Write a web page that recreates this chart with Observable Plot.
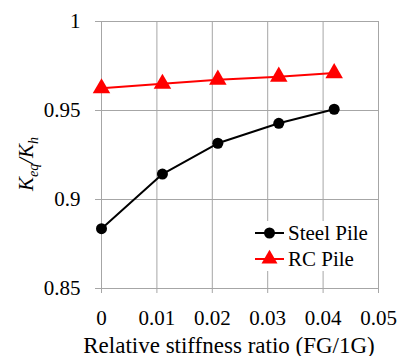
<!DOCTYPE html>
<html>
<head>
<meta charset="utf-8">
<script src="https://cdn.jsdelivr.net/npm/d3@7"></script>
<script src="https://cdn.jsdelivr.net/npm/@observablehq/plot@0.6"></script>
<style>
  html, body { margin: 0; padding: 0; background: #fff; }
  #chart svg { display: block; }
</style>
</head>
<body>
<div id="chart"></div>
<script>
// Relative stiffness ratio (FG/1G) for each test
const ratio = [0, 0.011, 0.021, 0.032, 0.042];
// Normalised stiffness Keq/Kh
const steelPile = [0.8836, 0.9143, 0.9316, 0.9428, 0.9507];
const rcPile = [0.9625, 0.9650, 0.9673, 0.9690, 0.9710];

const xTicks = [0, 0.01, 0.02, 0.03, 0.04, 0.05];
const xTickLabels = ["0", "0.01", "0.02", "0.03", "0.04", "0.05"];
const yTicks = [0.85, 0.9, 0.95, 1];
const yTickLabels = ["0.85", "0.9", "0.95", "1"];

const seriesNames = ["Steel Pile", "RC Pile"];
const seriesColors = ["#000000", "#ff0000"];

const steel = ratio.map((r, i) => ({x: r, y: steelPile[i]}));
const rc = ratio.map((r, i) => ({x: r, y: rcPile[i]}));

const font = "Times, 'Times New Roman', 'Liberation Serif', Tinos, 'Nimbus Roman', serif";
const gridColor = "#a6a6a6";

const svg = Plot.plot({
  width: 400,
  height: 356,
  marginLeft: 101,
  marginRight: 22,
  marginTop: 21,
  marginBottom: 68,
  style: {fontSize: "21px", color: "#000", background: "#fff"},
  x: {domain: [0, 0.05]},
  y: {domain: [0.85, 1]},
  marks: [
    Plot.gridX(xTicks, {stroke: gridColor, strokeOpacity: 1, strokeWidth: 1}),
    Plot.gridY(yTicks, {stroke: gridColor, strokeOpacity: 1, strokeWidth: 1}),
    Plot.axisX({
      ticks: xTicks, tickSize: 5, tickPadding: 17, stroke: gridColor,
      tickFormat: (d, i) => xTickLabels[i], label: null, fontSize: 21
    }),
    Plot.axisY({
      ticks: yTicks, tickSize: 6, tickPadding: 15, stroke: gridColor,
      tickFormat: (d, i) => yTickLabels[i], label: null, fontSize: 21
    }),
    Plot.line(rc, {x: "x", y: "y", stroke: seriesColors[1], strokeWidth: 2}),
    Plot.dot(rc, {x: "x", y: "y", symbol: "triangle", r: 6.5, fill: seriesColors[1], stroke: "none"}),
    Plot.line(steel, {x: "x", y: "y", stroke: seriesColors[0], strokeWidth: 2}),
    Plot.dot(steel, {x: "x", y: "y", r: 5.5, fill: seriesColors[0], stroke: "none"})
  ]
});

document.getElementById("chart").appendChild(svg);

const s = d3.select(svg);

// x axis title
s.append("text")
  .attr("x", 229).attr("y", 353)
  .attr("text-anchor", "middle")
  .style("font-size", "23px")
  .text("Relative stiffness ratio (FG/1G)");

// y axis title with subscripts
const yl = s.append("text")
  .attr("transform", "translate(33,164) rotate(-90)")
  .attr("text-anchor", "middle")
  .style("font-size", "21px").style("font-style", "italic");
yl.append("tspan").text("K");
yl.append("tspan").attr("dy", 5).style("font-size", "14px").text("eq");
yl.append("tspan").attr("dy", -5).text("/K");
yl.append("tspan").attr("dy", 5).style("font-size", "14px").text("h");

// legend
const lg = s.append("g").attr("transform", "translate(253,221)");
lg.append("rect").attr("width", 121).attr("height", 50).attr("fill", "#fff");
seriesNames.forEach((name, i) => {
  const y = 12 + i * 26;
  const g = lg.append("g").attr("transform", `translate(0,${y})`);
  g.append("line").attr("x1", 2).attr("x2", 31).attr("stroke", seriesColors[i]).attr("stroke-width", 2);
  g.append("path")
    .attr("transform", "translate(16.5,0)")
    .attr("d", d3.symbol(i === 0 ? d3.symbolCircle : d3.symbolTriangle, i === 0 ? Math.PI * 5.5 * 5.5 : 110)())
    .attr("fill", seriesColors[i]);
  g.append("text").attr("x", 35).attr("dy", "0.35em")
    .attr("text-anchor", "start")
    .style("font-size", "21px")
    .text(name);
});

// serif face for the whole figure, set inline with priority
svg.style.setProperty("font-family", font, "important");
svg.querySelectorAll("g, text, tspan").forEach(el => {
  el.setAttribute("font-family", font);
  el.style.setProperty("font-family", font, "important");
});
</script>
</body>
</html>
